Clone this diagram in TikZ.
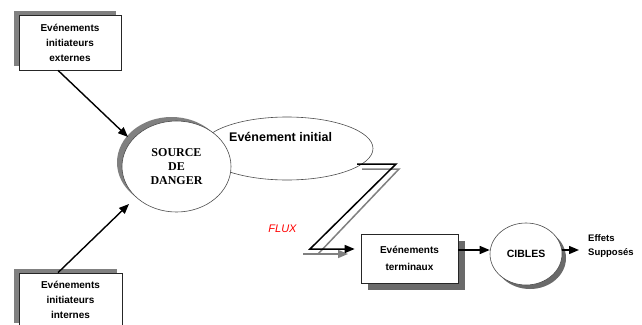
\documentclass[tikz,border=0pt]{standalone}
\usepackage{fontspec}
\setmainfont{Liberation Sans}
\newfontfamily\serifb{Liberation Serif}
\usetikzlibrary{arrows.meta,shadows,calc,shapes.geometric}
\definecolor{shgray}{HTML}{808080}
\definecolor{shdark}{HTML}{6A6A6A}
\begin{document}
\begin{tikzpicture}[x=1pt,y=-1pt,
  box/.style={draw=black!85, line width=0.7pt, fill=white, minimum width=102pt, minimum height=55pt,
    inner sep=1pt, align=center, font=\fontsize{10}{15}\selectfont\bfseries},
  ulshadow/.style={drop shadow={shadow xshift=-5pt, shadow yshift=4.5pt, fill=shgray, opacity=1}},
  drshadow/.style={drop shadow={shadow xshift=7pt, shadow yshift=-7pt, fill=shdark, opacity=1}},
  ciblshadow/.style={drop shadow={shadow xshift=4pt, shadow yshift=-4pt, fill=shdark, opacity=1}},
  arr/.style={line width=1.4pt, -{Triangle[length=10pt,width=8pt]}},
  zline/.style={line width=1.5pt}
]
\useasboundingbox (0,0) rectangle (642,324);
\clip (0,0) rectangle (642,324);
\fill[white] (0,0) rectangle (642,324);

% boxes of initiating events
\node[box, ulshadow] (ext) at (70,42.5) {Evénements\\initiateurs\\externes};
\node[box, ulshadow, minimum width=103pt, minimum height=54pt] (int) at (70.5,300) {Evénements\\initiateurs\\internes};

% initial event ellipse (behind the source)
\node[ellipse, draw=black!70, line width=0.6pt, fill=white, minimum width=172pt, minimum height=63pt, inner sep=0] (ini) at (287,148.5) {};
\node[font=\fontsize{12.5}{14}\selectfont\bfseries, anchor=west, inner sep=0] (initxt) at (229,137) {Evénement initial};

% source of danger
\node[ellipse, draw=black!70, fill=white, line width=0.6pt, minimum width=109pt, minimum height=91pt,
  inner sep=0, drop shadow={shadow xshift=-5pt, shadow yshift=4pt, fill=shgray, opacity=1},
  align=center, font=\serifb\fontsize{12}{14}\selectfont\bfseries] (src) at (176.5,166.5) {SOURCE\\DE\\DANGER};

% arrows into the source
\coordinate (srcin1) at (128,137);
\coordinate (srcin2) at (129,204);
\draw[arr] ($(ext.south)+(-12,0)$) -- (srcin1);
\draw[arr] ($(int.north)+(-12.5,0)$) -- (srcin2);

% terminal events
\node[box, drshadow, minimum width=97pt, minimum height=49pt, font=\fontsize{10}{17}\selectfont\bfseries] (term) at (409.5,258.5) {Evénements\\terminaux};

% FLUX z-arrow: grey shadow first, then black
\draw[zline, shgray] (362,169) -- (399,169) -- (318,254);
\draw[zline, shgray, -{Triangle[length=10pt,width=8pt]}] (303,254) -- (348,254);
\coordinate (z1) at (357,164);
\draw[zline, -{Triangle[length=10pt,width=8pt]}] (z1) -- (396,164) -- (310,249) -- ($(term.west)+(-6,-9.5)$);

\node[text=red, font=\fontsize{11}{12}\selectfont\itshape, inner sep=0] (flux) at (282.5,229) {FLUX};

% targets
\node[ellipse, draw=black!70, fill=white, line width=0.6pt, minimum width=72pt, minimum height=62pt, inner sep=0,
  ciblshadow, font=\fontsize{10.5}{12}\selectfont\bfseries] (cib) at (526,254) {CIBLES};

\node[anchor=west, align=left, inner sep=0, font=\fontsize{9.5}{14}\selectfont\bfseries] (eff) at (588,246) {Effets\\Supposés};

\coordinate (t1) at ($(term.east)+(0,-8.5)$);
\draw[arr] (t1) -- (t1 -| cib.west);
\draw[arr, shorten >=9pt] (t1 -| cib.east) -- (t1 -| eff.west);
\end{tikzpicture}
\end{document}
